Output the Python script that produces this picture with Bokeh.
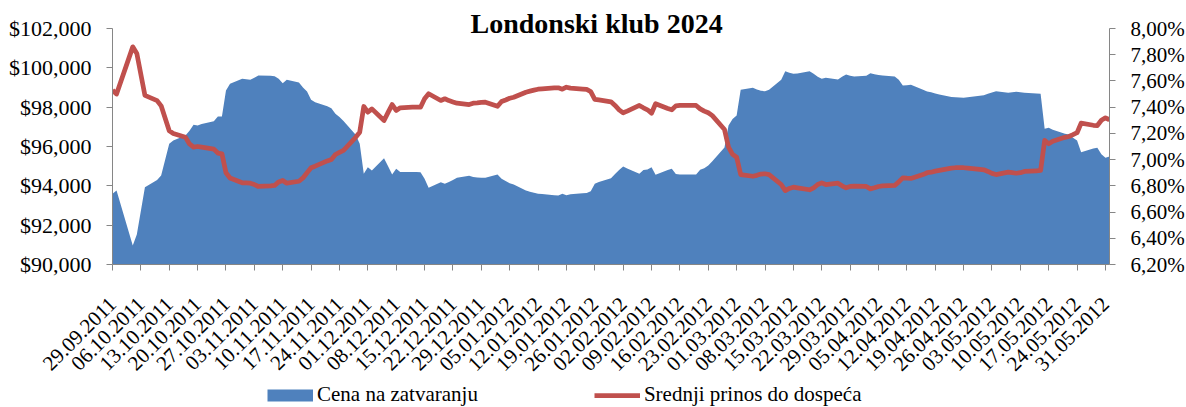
import math
import pandas as pd
from bokeh.plotting import figure
from bokeh.layouts import column
from bokeh.models import (Range1d, LinearAxis, FixedTicker, NumeralTickFormatter,
                          DatetimeTickFormatter, Legend, LegendItem, ColumnDataSource)
from bokeh.embed import file_html
from bokeh.resources import INLINE

TITLE = "Londonski klub 2024"
SERIES_PRICE = "Cena na zatvaranju"
SERIES_YIELD = "Srednji prinos do dospeća"

DATES = [
    "2011-09-29", "2011-09-30",
    "2011-10-04", "2011-10-05", "2011-10-07", "2011-10-10", "2011-10-11", "2011-10-13", "2011-10-14",
    "2011-10-17", "2011-10-18", "2011-10-19", "2011-10-20", "2011-10-21", "2011-10-24", "2011-10-25",
    "2011-10-26", "2011-10-27", "2011-10-28", "2011-10-31",
    "2011-11-01", "2011-11-02", "2011-11-03", "2011-11-04", "2011-11-07", "2011-11-08", "2011-11-09",
    "2011-11-10", "2011-11-11", "2011-11-14", "2011-11-15", "2011-11-16", "2011-11-17", "2011-11-18",
    "2011-11-21", "2011-11-22", "2011-11-23", "2011-11-24", "2011-11-25", "2011-11-28", "2011-11-29",
    "2011-11-30",
    "2011-12-01", "2011-12-02", "2011-12-05", "2011-12-06", "2011-12-07", "2011-12-08", "2011-12-09",
    "2011-12-12", "2011-12-13", "2011-12-14", "2011-12-15", "2011-12-16", "2011-12-19", "2011-12-20",
    "2011-12-21", "2011-12-22", "2011-12-23", "2011-12-26", "2011-12-27", "2011-12-28", "2011-12-29",
    "2011-12-30",
    "2012-01-02", "2012-01-03", "2012-01-04", "2012-01-05", "2012-01-06", "2012-01-09", "2012-01-10",
    "2012-01-11", "2012-01-12", "2012-01-13", "2012-01-16", "2012-01-17", "2012-01-18", "2012-01-19",
    "2012-01-20", "2012-01-23", "2012-01-24", "2012-01-25", "2012-01-26", "2012-01-27", "2012-01-30",
    "2012-01-31",
    "2012-02-01", "2012-02-02", "2012-02-03", "2012-02-06", "2012-02-07", "2012-02-08", "2012-02-09",
    "2012-02-10", "2012-02-13", "2012-02-14", "2012-02-15", "2012-02-16", "2012-02-17", "2012-02-20",
    "2012-02-21", "2012-02-22", "2012-02-23", "2012-02-24", "2012-02-27", "2012-02-28", "2012-02-29",
    "2012-03-01", "2012-03-02", "2012-03-05", "2012-03-06", "2012-03-07", "2012-03-08", "2012-03-09",
    "2012-03-12", "2012-03-13", "2012-03-14", "2012-03-15", "2012-03-16", "2012-03-19", "2012-03-20",
    "2012-03-21", "2012-03-22", "2012-03-23", "2012-03-26", "2012-03-27", "2012-03-28", "2012-03-29",
    "2012-03-30",
    "2012-04-02", "2012-04-03", "2012-04-04", "2012-04-05", "2012-04-06", "2012-04-09", "2012-04-10",
    "2012-04-11", "2012-04-12", "2012-04-13", "2012-04-16", "2012-04-17", "2012-04-18", "2012-04-19",
    "2012-04-20", "2012-04-23", "2012-04-24", "2012-04-25", "2012-04-26", "2012-04-27", "2012-04-30",
    "2012-05-01", "2012-05-02", "2012-05-03", "2012-05-04", "2012-05-07", "2012-05-08", "2012-05-09",
    "2012-05-10", "2012-05-11", "2012-05-14", "2012-05-15", "2012-05-16", "2012-05-17", "2012-05-18",
    "2012-05-21", "2012-05-22", "2012-05-23", "2012-05-24", "2012-05-25", "2012-05-28", "2012-05-29",
    "2012-05-30", "2012-05-31",
    "2012-06-01",
]

PRICE = [
    93600, 93760,
    90970, 91520, 93930, 94300, 94520, 96140, 96300,
    96560, 96800, 97100, 97070, 97150, 97290, 97525,
    97525, 98850, 99190, 99440,
    99420, 99390, 99500, 99610, 99600, 99575, 99440,
    99220, 99390, 99250, 99000, 98800, 98375, 98250,
    98050, 97950, 97660, 97500, 97300, 96600, 96140,
    94610,
    94950, 94780, 95400, 95000, 94580, 94870, 94700,
    94700, 94700, 94690, 94357, 93900, 94185, 94104,
    94200, 94300, 94410, 94511, 94450, 94425, 94410,
    94409,
    94577, 94357, 94250, 94130, 94068, 93763, 93700,
    93650, 93600, 93580, 93520, 93509, 93595, 93525,
    93570, 93620, 93640, 93729, 94100, 94200, 94388,
    94600,
    94800, 94983, 94880, 94612, 94800, 94830, 94950,
    94560, 94800, 94866, 94600, 94577, 94577, 94577,
    94815, 94900, 95034, 95250, 95950, 97068, 97400,
    97577, 98883, 98985, 98900, 98830, 98815, 98883,
    99392, 99830, 99750, 99697, 99710, 99830, 99700,
    99550, 99443, 99493, 99407, 99550, 99662, 99600,
    99560,
    99600, 99728, 99680, 99640, 99610, 99560, 99400,
    99102, 99120, 99136, 98883, 98800, 98760, 98700,
    98650, 98520, 98507, 98490, 98476, 98500, 98580,
    98600, 98680, 98750, 98812, 98730, 98760, 98783,
    98760, 98730, 98700, 98680, 96900, 96950, 96850,
    96650, 96610, 96450, 96300, 95710, 95900, 95934,
    95600, 95426,
    95492,
]

YIELD_PCT = [
    7.53, 7.50,
    7.86, 7.81, 7.49, 7.45, 7.41, 7.22, 7.20,
    7.17, 7.12, 7.095, 7.10, 7.095, 7.08, 7.05,
    7.044, 6.90, 6.86, 6.823,
    6.822, 6.82, 6.81, 6.795, 6.80, 6.803, 6.83,
    6.841, 6.82, 6.835, 6.86, 6.90, 6.938, 6.95,
    6.99, 7.00, 7.039, 7.055, 7.07, 7.17, 7.209,
    7.405,
    7.362, 7.387, 7.298, 7.36, 7.42, 7.375, 7.395,
    7.40, 7.40, 7.40, 7.464, 7.502, 7.451, 7.464,
    7.45, 7.44, 7.43, 7.42, 7.43, 7.433, 7.437,
    7.438,
    7.407, 7.443, 7.455, 7.468, 7.476, 7.514, 7.522,
    7.53, 7.537, 7.54, 7.547, 7.548, 7.537, 7.552,
    7.545, 7.538, 7.535, 7.519, 7.46, 7.455, 7.441,
    7.413,
    7.38, 7.357, 7.37, 7.413, 7.395, 7.38, 7.354,
    7.426, 7.39, 7.38, 7.41, 7.413, 7.413, 7.413,
    7.387, 7.37, 7.357, 7.335, 7.23, 7.095, 7.04,
    7.018, 6.886, 6.873, 6.88, 6.89, 6.892, 6.886,
    6.81, 6.764, 6.78, 6.79, 6.785, 6.77, 6.785,
    6.81, 6.823, 6.81, 6.82, 6.80, 6.785, 6.795,
    6.797,
    6.795, 6.777, 6.785, 6.795, 6.80, 6.803, 6.83,
    6.861, 6.858, 6.856, 6.886, 6.90, 6.904, 6.912,
    6.918, 6.935, 6.938, 6.938, 6.938, 6.935, 6.925,
    6.922, 6.91, 6.895, 6.886, 6.904, 6.90, 6.896,
    6.90, 6.91, 6.915, 6.917, 7.146, 7.121, 7.14,
    7.17, 7.176, 7.19, 7.205, 7.278, 7.262, 7.26,
    7.30, 7.319,
    7.304,
]

X_TICK_LABELS = [
    "29.09.2011", "06.10.2011", "13.10.2011", "20.10.2011", "27.10.2011", "03.11.2011",
    "10.11.2011", "17.11.2011", "24.11.2011", "01.12.2011", "08.12.2011", "15.12.2011",
    "22.12.2011", "29.12.2011", "05.01.2012", "12.01.2012", "19.01.2012", "26.01.2012",
    "02.02.2012", "09.02.2012", "16.02.2012", "23.02.2012", "01.03.2012", "08.03.2012",
    "15.03.2012", "22.03.2012", "29.03.2012", "05.04.2012", "12.04.2012", "19.04.2012",
    "26.04.2012", "03.05.2012", "10.05.2012", "17.05.2012", "24.05.2012", "31.05.2012",
]
PRICE_TICKS = [90000, 92000, 94000, 96000, 98000, 100000, 102000]
YIELD_TICKS = [6.2, 6.4, 6.6, 6.8, 7.0, 7.2, 7.4, 7.6, 7.8, 8.0]
YIELD_TICK_LABELS = ["6,20%", "6,40%", "6,60%", "6,80%", "7,00%", "7,20%", "7,40%", "7,60%", "7,80%", "8,00%"]

assert len(DATES) == len(PRICE) == len(YIELD_PCT)

dates = pd.to_datetime(DATES)
src = ColumnDataSource(data=dict(date=dates, price=PRICE, yld=YIELD_PCT))

tick_dates = pd.to_datetime(X_TICK_LABELS, format="%d.%m.%Y")
epoch = pd.Timestamp("1970-01-01")
tick_ms = [float((t - epoch) // pd.Timedelta(milliseconds=1)) for t in tick_dates]

FONT = "Liberation Serif"
BLUE = "#4F81BD"
RED = "#C0504D"
AXIS_GREY = "#868686"

# ---------------- main chart ----------------
p = figure(frame_width=997, frame_height=236,
           x_axis_type="datetime", output_backend="svg", toolbar_location=None,
           x_range=Range1d(start=pd.Timestamp("2011-09-29"), end=pd.Timestamp("2012-06-01")),
           y_range=Range1d(start=90000, end=102000),
           min_border_left=112, min_border_right=77, min_border_top=28, min_border_bottom=121)
p.extra_y_ranges = {"yld": Range1d(start=6.2, end=8.0)}
p.xgrid.visible = False
p.ygrid.visible = False
p.outline_line_color = None
p.background_fill_color = "white"
p.border_fill_color = "white"

p.title.text = TITLE
p.title.text_font = FONT
p.title.text_font_style = "bold"
p.title.text_font_size = "28px"
p.title.text_color = "black"
p.title.align = "left"
p.title.offset = 358
p.title.vertical_align = "bottom"
p.title.standoff = -21

area = p.varea(x="date", y1=90000, y2="price", source=src, fill_color=BLUE, fill_alpha=1.0)
yline = p.line(x="date", y="yld", source=src, y_range_name="yld",
               line_color=RED, line_width=4.75, line_join="round")

right = LinearAxis(y_range_name="yld")
p.add_layout(right, "right")

xax = p.xaxis[0]
yax = p.yaxis[0]

for ax in (xax, yax, right):
    ax.axis_line_color = AXIS_GREY
    ax.axis_line_width = 1
    ax.major_tick_line_color = AXIS_GREY
    ax.major_tick_in = 0
    ax.major_tick_out = 6
    ax.minor_tick_line_color = None
    ax.major_label_text_font = FONT
    ax.major_label_text_font_size = "21px"
    ax.major_label_text_color = "black"

yax.ticker = FixedTicker(ticks=PRICE_TICKS)
yax.formatter = NumeralTickFormatter(format="$0,0")
yax.major_label_text_font_size = "22px"
yax.major_label_standoff = 15

right.ticker = FixedTicker(ticks=YIELD_TICKS)
right.major_label_overrides = dict(zip(YIELD_TICKS, YIELD_TICK_LABELS))
right.major_label_standoff = 15

fmt = "%d.%m.%Y"
xax.ticker = FixedTicker(ticks=tick_ms)
xax.formatter = DatetimeTickFormatter(microseconds=fmt, milliseconds=fmt, seconds=fmt, minsec=fmt,
                                      minutes=fmt, hourmin=fmt, hours=fmt, days=fmt,
                                      months=fmt, years=fmt)
xax.major_label_overrides = dict(zip(tick_ms, X_TICK_LABELS))
xax.major_label_orientation = math.pi / 4
xax.major_label_standoff = 30

# ---------------- legend strip below the chart ----------------
lf = figure(width=1186, height=22, output_backend="svg", toolbar_location=None,
            x_range=Range1d(0, 1), y_range=Range1d(0, 1),
            x_axis_location=None, y_axis_location=None,
            min_border_left=0, min_border_right=0, min_border_top=0, min_border_bottom=0)
lf.xgrid.visible = False
lf.ygrid.visible = False
lf.outline_line_color = None
lf.background_fill_color = "white"
lf.border_fill_color = "white"
# legend swatches only: one NaN point each, so nothing is drawn in the strip itself
sw_price = lf.line(x=[float("nan")], y=[float("nan")], line_color=BLUE, line_width=12)
sw_yield = lf.line(x=[float("nan")], y=[float("nan")], line_color=RED, line_width=4.75)

legend = Legend(items=[LegendItem(label=SERIES_PRICE, renderers=[sw_price]),
                       LegendItem(label=SERIES_YIELD, renderers=[sw_yield])],
                orientation="horizontal", location=(155, 0),
                glyph_width=46, glyph_height=22, label_height=22, label_standoff=4,
                spacing=116, padding=0, margin=0, border_line_color=None,
                background_fill_alpha=0, label_text_font=FONT, label_text_font_size="21px",
                label_text_color="black")
lf.add_layout(legend, "center")

page = column(p, lf, spacing=0)

open("out.html", "w").write(file_html(page, INLINE))
